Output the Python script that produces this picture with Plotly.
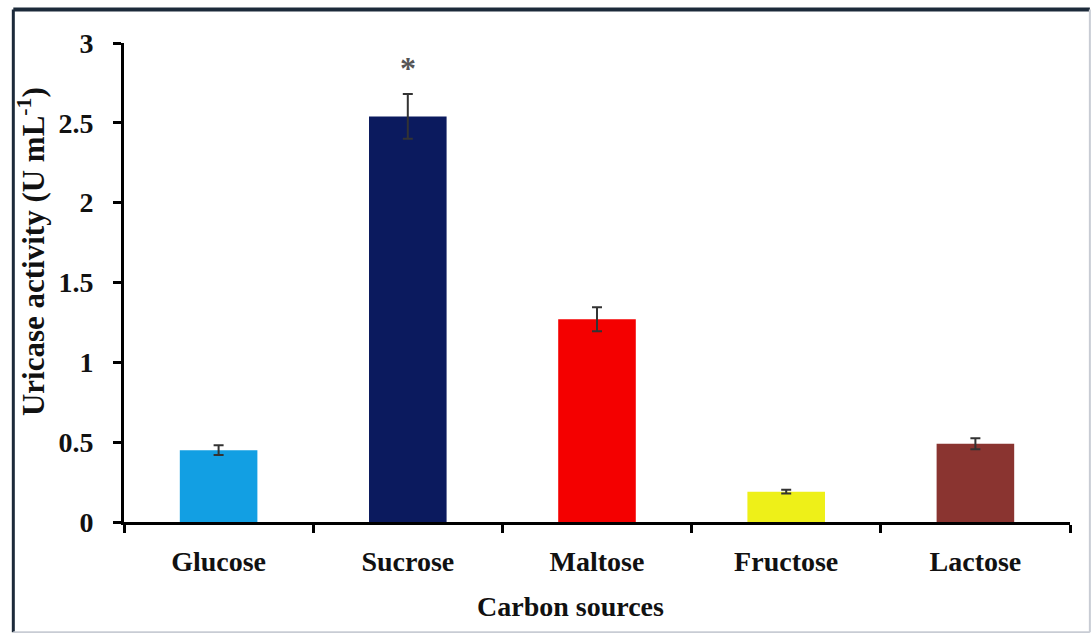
import plotly.graph_objects as go

categories = ["Glucose", "Sucrose", "Maltose", "Fructose", "Lactose"]
activity = [0.45, 2.54, 1.27, 0.19, 0.49]
errors = [0.03, 0.14, 0.075, 0.012, 0.035]
colors = ["#129fe3", "#0b1a5e", "#f40000", "#eef018", "#8a3430"]
y_ticks = [0, 0.5, 1, 1.5, 2, 2.5, 3]
y_tick_labels = ["0", "0.5", "1", "1.5", "2", "2.5", "3"]
significant = ["Sucrose"]

FONT = "Liberation Serif"

fig = go.Figure()
fig.add_trace(go.Bar(
    x=categories, y=activity,
    marker=dict(color=colors, line=dict(width=0)),
    error_y=dict(type="data", array=errors, visible=True,
                 color="#333333", thickness=2, width=5),
    showlegend=False,
))

for cat in significant:
    idx = categories.index(cat)
    fig.add_annotation(x=cat, y=activity[idx] + errors[idx], yshift=26,
                       text="<b>*</b>", showarrow=False,
                       font=dict(family=FONT, size=32, color="#555555"))

# axis titles
fig.add_annotation(xref="paper", yref="paper", x=-0.097, y=0.564,
                   xanchor="center", yanchor="middle",
                   text="<b>Uricase activity (U mL<sup>-1</sup>)</b>",
                   textangle=-90, showarrow=False,
                   font=dict(family=FONT, size=31, color="#111111"))
fig.add_annotation(xref="paper", yref="paper", x=0.472, y=-0.177,
                   xanchor="center", yanchor="middle",
                   text="<b>Carbon sources</b>", showarrow=False,
                   font=dict(family=FONT, size=28, color="#111111"))

# outer frame
fig.add_shape(type="line", xref="paper", yref="paper",
              x0=-0.117, x1=-0.117, y0=-0.23, y1=1.07,
              line=dict(color="#1c2a3a", width=3))
fig.add_shape(type="line", xref="paper", yref="paper",
              x0=-0.117, x1=1.021, y0=1.07, y1=1.07,
              line=dict(color="#1c2a3a", width=4))
fig.add_shape(type="line", xref="paper", yref="paper",
              x0=1.021, x1=1.021, y0=-0.23, y1=1.07,
              line=dict(color="#c8ccd4", width=2))
fig.add_shape(type="line", xref="paper", yref="paper",
              x0=-0.117, x1=1.021, y0=-0.23, y1=-0.23,
              line=dict(color="#c8ccd4", width=2))

fig.update_layout(
    width=1091, height=633,
    margin=dict(l=124, r=21, t=43, b=111),
    paper_bgcolor="white", plot_bgcolor="white",
    bargap=0.59,
    font=dict(family=FONT, color="#111111"),
    xaxis=dict(
        showline=True, linecolor="black", linewidth=3,
        ticks="outside", tickson="boundaries", ticklen=8, tickwidth=3,
        tickcolor="black", showgrid=False, zeroline=False,
        tickfont=dict(family=FONT, size=28, color="#111111", weight="bold"),
        ticklabelstandoff=12,
    ),
    yaxis=dict(
        range=[0, 3], tickvals=y_ticks, ticktext=y_tick_labels,
        showline=True, linecolor="black", linewidth=3,
        ticks="outside", ticklen=8, tickwidth=3, tickcolor="black",
        showgrid=False, zeroline=False,
        tickfont=dict(family=FONT, size=28, color="#111111", weight="bold"),
        ticklabelstandoff=14,
    ),
)

fig.write_html("out.html")
